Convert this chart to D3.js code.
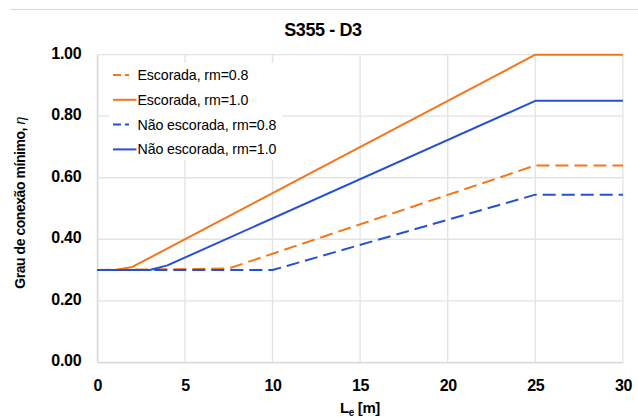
<!DOCTYPE html>
<html>
<head>
<meta charset="utf-8">
<script src="https://cdn.jsdelivr.net/npm/d3@7/dist/d3.min.js"></script>
<style>
  html, body { margin: 0; padding: 0; background: #fff; }
  svg { display: block; font-family: "Liberation Sans", Arial, sans-serif; }
</style>
</head>
<body>
<svg id="chart" width="638" height="417"></svg>
<script>
// ---- data ----
const seriesNames = ["Escorada, rm=0.8", "Escorada, rm=1.0", "Não escorada, rm=0.8", "Não escorada, rm=1.0"];
const escorada08_x = [0, 7.5, 25, 30];
const escorada08_y = [0.30, 0.305, 0.64, 0.64];
const escorada10_x = [0, 1, 2, 25, 30];
const escorada10_y = [0.30, 0.30, 0.31, 1.00, 1.00];
const naoEscorada08_x = [0, 10, 25, 30];
const naoEscorada08_y = [0.30, 0.30, 0.545, 0.545];
const naoEscorada10_x = [0, 3, 4, 25, 30];
const naoEscorada10_y = [0.30, 0.30, 0.315, 0.85, 0.85];
const xTicks = [0, 5, 10, 15, 20, 25, 30];
const yTicks = [0, 0.2, 0.4, 0.6, 0.8, 1.0];

const orange = "#F5761A", blue = "#2450D6";
const series = [
  { name: seriesNames[0], xs: escorada08_x, ys: escorada08_y, color: orange, dash: true },
  { name: seriesNames[1], xs: escorada10_x, ys: escorada10_y, color: orange, dash: false },
  { name: seriesNames[2], xs: naoEscorada08_x, ys: naoEscorada08_y, color: blue, dash: true },
  { name: seriesNames[3], xs: naoEscorada10_x, ys: naoEscorada10_y, color: blue, dash: false }
];

const svg = d3.select("#chart");
const L = 97.3, R = 622.9, T = 54.7, B = 362.3;
const x = d3.scaleLinear().domain([0, 30]).range([L, R]);
const y = d3.scaleLinear().domain([0, 1]).range([B, T]);

// top border line of chart area
svg.append("line").attr("x1", 10).attr("x2", 638).attr("y1", 9.5).attr("y2", 9.5)
  .attr("stroke", "#d9d9d9").attr("stroke-width", 1);

// gridlines
const grid = svg.append("g");
grid.selectAll("line.h").data(yTicks).join("line")
  .attr("x1", L).attr("x2", R).attr("y1", d => y(d)).attr("y2", d => y(d))
  .attr("stroke", "#e3e3e3").attr("stroke-width", 1.3);
grid.selectAll("line.v").data(xTicks).join("line")
  .attr("y1", T).attr("y2", B).attr("x1", d => x(d)).attr("x2", d => x(d))
  .attr("stroke", "#e3e3e3").attr("stroke-width", 1.3);

// axes (labels only)
const xAxis = d3.axisBottom(x).tickValues(xTicks).tickSize(0).tickPadding(0).tickFormat(d3.format("d"));
const gx = svg.append("g").attr("transform", `translate(0,${B})`).call(xAxis);
gx.select(".domain").attr("stroke", "#d9d9d9").attr("stroke-width", 1.3);
gx.selectAll("text").attr("y", 29).attr("dy", 0)
  .attr("font-size", "16px").attr("font-weight", "bold").attr("fill", "#000")
  .attr("font-family", "Liberation Sans, Arial, sans-serif").style("letter-spacing", "-0.4px");

const yAxis = d3.axisLeft(y).tickValues(yTicks).tickSize(0).tickPadding(0).tickFormat(d3.format(".2f"));
const gy = svg.append("g").attr("transform", `translate(${L},0)`).call(yAxis);
gy.select(".domain").attr("stroke", "#d9d9d9").attr("stroke-width", 1.3);
gy.selectAll("text").attr("x", -16).attr("dy", "0.22em")
  .attr("font-size", "16px").attr("font-weight", "bold").attr("fill", "#000")
  .attr("font-family", "Liberation Sans, Arial, sans-serif").style("letter-spacing", "-0.3px");

// lines
const line = d3.line().x(d => x(d[0])).y(d => y(d[1]));
series.forEach(s => {
  const pts = s.xs.map((v, i) => [v, s.ys[i]]);
  svg.append("path").attr("d", line(pts))
    .attr("fill", "none").attr("stroke", s.color).attr("stroke-width", 2)
    .attr("stroke-dasharray", s.dash ? "13,6" : null)
    .attr("stroke-linejoin", "round");
});

// legend
const lg = svg.append("g");
lg.append("rect").attr("x", 109).attr("y", 63).attr("width", 173).attr("height", 97).attr("fill", "#fff");
series.forEach((s, i) => {
  const yy = 75 + i * 24.8;
  lg.append("line").attr("x1", 113).attr("x2", 136.5).attr("y1", yy).attr("y2", yy)
    .attr("stroke", s.color).attr("stroke-width", 2)
    .attr("stroke-dasharray", s.dash ? "8,4,4,40" : null);
  lg.append("text").attr("x", 137.5).attr("y", yy + 5)
    .attr("font-size", "14.2px").attr("fill", "#000").style("letter-spacing", "-0.1px")
    .text(s.name);
});

// title
svg.append("text").attr("x", 323).attr("y", 36).attr("text-anchor", "middle")
  .attr("font-size", "18px").attr("font-weight", "bold").style("letter-spacing", "-0.4px")
  .text("S355 - D3");

// x title
const xt = svg.append("text").attr("x", 360).attr("y", 413).attr("text-anchor", "middle")
  .attr("font-size", "15px").attr("font-weight", "bold").style("letter-spacing", "-0.4px");
xt.append("tspan").text("L");
xt.append("tspan").attr("font-size", "10px").attr("dy", 3).text("e");
xt.append("tspan").attr("dy", -3).text(" [m]");

// y title
const yt = svg.append("text").attr("transform", "translate(25,203) rotate(-90)")
  .attr("text-anchor", "middle").attr("font-size", "14px").attr("font-weight", "bold")
  .style("letter-spacing", "-0.45px");
yt.append("tspan").text("Grau de conexão mínimo, ");
yt.append("tspan").attr("font-style", "italic").attr("font-weight", "normal").text("η");
</script>
</body>
</html>
